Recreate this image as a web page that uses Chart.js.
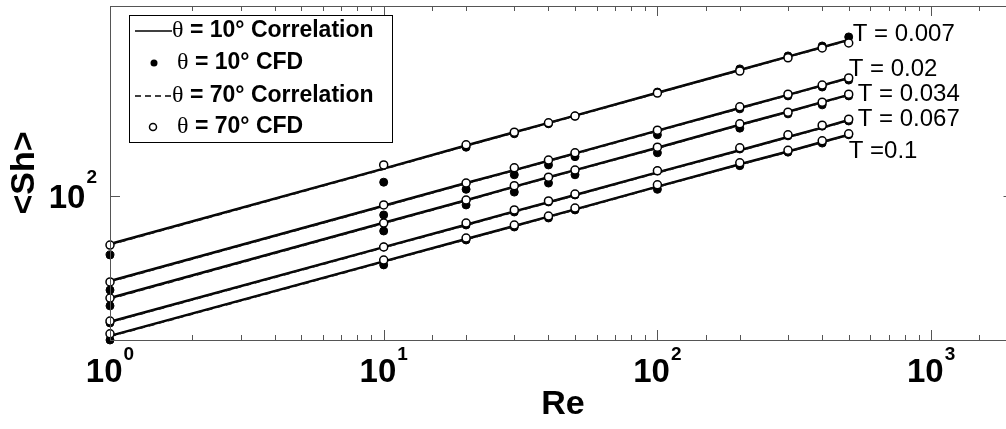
<!DOCTYPE html>
<html>
<head>
<meta charset="utf-8">
<script src="https://cdn.jsdelivr.net/npm/chart.js@4"></script>
<style>
    html, body { margin: 0; padding: 0; background: #fff; overflow: hidden; }
    #wrap { position: relative; width: 1019px; height: 429px; }
</style>
</head>
<body>
<div id="wrap"><canvas id="shChart"></canvas></div>
<script>
    // Reynolds numbers of the CFD runs
    const re = [1, 10, 20, 30, 40, 50, 100, 200, 300, 400, 500];
    const tLabels = ['T = 0.007', 'T = 0.02', 'T = 0.034', 'T = 0.067', 'T =0.1'];

    // <Sh> per T (rows) and Re (columns)
    const corr10 = [
        [61.4, 132, 167, 191, 210, 226, 285, 359, 411, 452, 487],
        [42.2, 90.5, 114, 130, 143, 154, 194, 244, 279, 307, 331],
        [35.5, 76.2, 95.8, 110, 121, 130, 163, 206, 235, 259, 279],
        [27.9, 59.5, 74.7, 85.5, 93.9, 101, 127, 159, 182, 200, 216],
        [24.2, 51.5, 64.6, 73.8, 81.1, 87.3, 110, 138, 157, 173, 186]
    ];
    const corr70 = [
        [61.1, 131.5, 166.4, 190.3, 209.4, 225.3, 284.2, 358, 410, 451, 486],
        [42.0, 90.2, 113.6, 129.6, 142.6, 153.5, 193.4, 243.3, 278.3, 306.2, 330.2],
        [35.3, 75.9, 95.4, 109.6, 120.6, 129.6, 162.5, 205.4, 234.4, 258.3, 278.3],
        [27.8, 59.3, 74.4, 85.2, 93.6, 100.7, 126.6, 158.5, 181.5, 199.5, 215.4],
        [24.1, 51.3, 64.4, 73.6, 80.9, 87.0, 109.7, 137.6, 156.6, 172.6, 185.5]
    ];
    const cfd10 = [
        [55.0, 115, 164, 188, 208, 225, 287, 363, 414, 458, 502],
        [38.5, 82.5, 107, 124, 137, 149, 186, 242, 276, 302, 324],
        [32.8, 70.1, 91.3, 104, 114, 124, 155, 199, 230, 252, 276],
        [27.6, 59.6, 74.5, 85.0, 94.1, 101, 129, 161, 184, 203, 214],
        [23.2, 49.7, 64.0, 73.0, 80.0, 86.8, 107, 136, 156, 171, 186]
    ];
    const cfd70 = [
        [60.8, 137, 168, 191, 210, 225, 284, 355, 406, 449, 472],
        [41.8, 91.3, 114, 133, 144, 155, 195, 247, 281, 308, 331],
        [35.5, 76.0, 96.0, 111, 121, 130, 164, 208, 234, 259, 281],
        [28.1, 59.6, 76.0, 86.8, 95.1, 102, 129, 163, 186, 205, 218],
        [24.7, 52.2, 65.3, 74.5, 81.6, 88.5, 112, 140, 159, 175, 188]
    ];

    const toPoints = (vals) => vals.map((v, i) => ({x: re[i], y: v}));
    const isPow10 = (v) => Math.abs(Math.log10(v) - Math.round(Math.log10(v))) < 1e-9;

    const datasets = [];
    corr10.forEach(vals => datasets.push({
        data: toPoints(vals), borderColor: '#000', borderWidth: 2.5,
        pointRadius: 0, order: 3, clip: false
    }));
    corr70.forEach(vals => datasets.push({
        data: toPoints(vals), borderColor: '#111', borderWidth: 2, borderDash: [6, 4],
        pointRadius: 0, order: 2, clip: false
    }));
    cfd10.forEach(vals => datasets.push({
        data: toPoints(vals), showLine: false, pointRadius: 4,
        pointBackgroundColor: '#000', pointBorderColor: '#000', pointBorderWidth: 1,
        order: 1, clip: false
    }));
    cfd70.forEach(vals => datasets.push({
        data: toPoints(vals), showLine: false, pointRadius: 4,
        pointBackgroundColor: '#fff', pointBorderColor: '#000', pointBorderWidth: 1.5,
        order: 0, clip: false
    }));

    const SANS = '"Liberation Sans", Arial, sans-serif';

    const drawPower = (ctx, xLeft, baseY, exp, size, expSize, rise) => {
        ctx.font = `bold ${size}px ${SANS}`;
        ctx.textAlign = 'left';
        ctx.textBaseline = 'alphabetic';
        ctx.fillText('10', xLeft, baseY);
        const wb = ctx.measureText('10').width;
        ctx.font = `bold ${expSize}px ${SANS}`;
        ctx.fillText(String(exp), xLeft + wb + 1, baseY - rise);
    };

    const powerWidth = (ctx, exp, size, expSize) => {
        ctx.font = `bold ${size}px ${SANS}`;
        const wb = ctx.measureText('10').width;
        ctx.font = `bold ${expSize}px ${SANS}`;
        return wb + 1 + ctx.measureText(String(exp)).width;
    };

    const axesPlugin = {
        id: 'matlabAxes',
        afterDraw(chart) {
            const {ctx, chartArea: a, scales: {x, y}} = chart;
            ctx.save();

            // frame
            ctx.strokeStyle = '#555';
            ctx.lineWidth = 1;
            ctx.strokeRect(a.left + 0.5, a.top + 0.5, a.right - a.left, a.bottom - a.top);

            // inward ticks, bottom and top
            ctx.beginPath();
            x.ticks.forEach(t => {
                const px = Math.round(x.getPixelForValue(t.value)) + 0.5;
                const len = isPow10(t.value) ? 10 : 5;
                ctx.moveTo(px, a.bottom); ctx.lineTo(px, a.bottom - len);
                ctx.moveTo(px, a.top); ctx.lineTo(px, a.top + len);
            });
            y.ticks.filter(t => isPow10(t.value)).forEach(t => {
                const py = Math.round(y.getPixelForValue(t.value)) + 0.5;
                ctx.moveTo(a.left, py); ctx.lineTo(a.left + 10, py);
                ctx.moveTo(a.right, py); ctx.lineTo(a.right - 10, py);
            });
            ctx.stroke();

            // tick labels
            ctx.fillStyle = '#000';
            x.ticks.filter(t => isPow10(t.value)).forEach(t => {
                const exp = Math.round(Math.log10(t.value));
                const px = x.getPixelForValue(t.value);
                const w = powerWidth(ctx, exp, 33, 19);
                drawPower(ctx, px - w / 2, a.bottom + 42, exp, 33, 19, 22);
            });
            y.ticks.filter(t => isPow10(t.value)).forEach(t => {
                const exp = Math.round(Math.log10(t.value));
                const py = y.getPixelForValue(t.value);
                const w = powerWidth(ctx, exp, 33, 19);
                drawPower(ctx, a.left - 13 - w, py + 12, exp, 33, 19, 25);
            });

            // axis titles
            ctx.font = `bold 34px ${SANS}`;
            ctx.textAlign = 'center';
            ctx.textBaseline = 'middle';
            ctx.fillText('Re', 563, a.bottom + 65);
            ctx.save();
            ctx.translate(25, 173);
            ctx.rotate(-Math.PI / 2);
            ctx.fillText('<Sh>', 0, 0);
            ctx.restore();

            // T labels at the line ends
            const dx = [4, 0, 9, 9, 0];
            const dy = [-6, -9, 0, -1, 17];
            ctx.font = `24px ${SANS}`;
            ctx.textAlign = 'left';
            tLabels.forEach((lbl, i) => {
                const last = re.length - 1;
                const px = x.getPixelForValue(re[last]);
                const py = y.getPixelForValue(corr10[i][last]);
                ctx.fillText(lbl, px + dx[i], py + dy[i]);
            });

            // legend box
            const lx = a.left + 19, ly = a.top + 9, lw = 263, lh = 127;
            ctx.fillStyle = '#fff';
            ctx.fillRect(lx, ly, lw, lh);
            ctx.strokeStyle = '#000';
            ctx.lineWidth = 1;
            ctx.strokeRect(lx + 0.5, ly + 0.5, lw, lh);

            const rows = [
                {y: 31, kind: 'line', label: ' = 10° Correlation'},
                {y: 63, kind: 'dot', label: ' = 10° CFD'},
                {y: 96, kind: 'dash', label: ' = 70° Correlation'},
                {y: 127, kind: 'circle', label: ' = 70° CFD'}
            ];
            rows.forEach(r => {
                ctx.strokeStyle = '#000';
                ctx.fillStyle = '#000';
                let tx = 177;
                if (r.kind === 'line' || r.kind === 'dash') {
                    ctx.lineWidth = 1.5;
                    ctx.setLineDash(r.kind === 'dash' ? [6, 4] : []);
                    ctx.beginPath();
                    ctx.moveTo(135, r.y); ctx.lineTo(172, r.y);
                    ctx.stroke();
                    ctx.setLineDash([]);
                    tx = 172;
                } else if (r.kind === 'dot') {
                    ctx.beginPath();
                    ctx.arc(154, r.y, 3.5, 0, Math.PI * 2);
                    ctx.fill();
                } else {
                    ctx.lineWidth = 1.5;
                    ctx.beginPath();
                    ctx.arc(153, r.y, 3.5, 0, Math.PI * 2);
                    ctx.stroke();
                }
                ctx.textAlign = 'left';
                ctx.textBaseline = 'middle';
                ctx.font = `24px "Liberation Serif", serif`;
                ctx.fillText('θ', tx, r.y);
                const tw = ctx.measureText('θ').width;
                ctx.font = `bold 23px ${SANS}`;
                ctx.fillText(r.label, tx + tw, r.y);
            });

            ctx.restore();
        }
    };

    new Chart(document.getElementById('shChart').getContext('2d'), {
        type: 'line',
        data: {datasets},
        options: {
            responsive: true,
            maintainAspectRatio: false,
            animation: false,
            layout: {padding: {top: 6, right: 0, bottom: 0, left: 0}},
            plugins: {
                legend: {display: false},
                tooltip: {enabled: false}
            },
            scales: {
                x: {
                    type: 'logarithmic', min: 1, max: 2000,
                    grid: {display: false}, border: {display: false},
                    ticks: {display: false, autoSkip: false},
                    afterFit: (s) => { s.height = 89; }
                },
                y: {
                    type: 'logarithmic', min: 23.2, max: 687,
                    grid: {display: false}, border: {display: false},
                    ticks: {display: false, autoSkip: false},
                    afterFit: (s) => { s.width = 110; }
                }
            }
        },
        plugins: [axesPlugin]
    });
</script>
</body>
</html>
